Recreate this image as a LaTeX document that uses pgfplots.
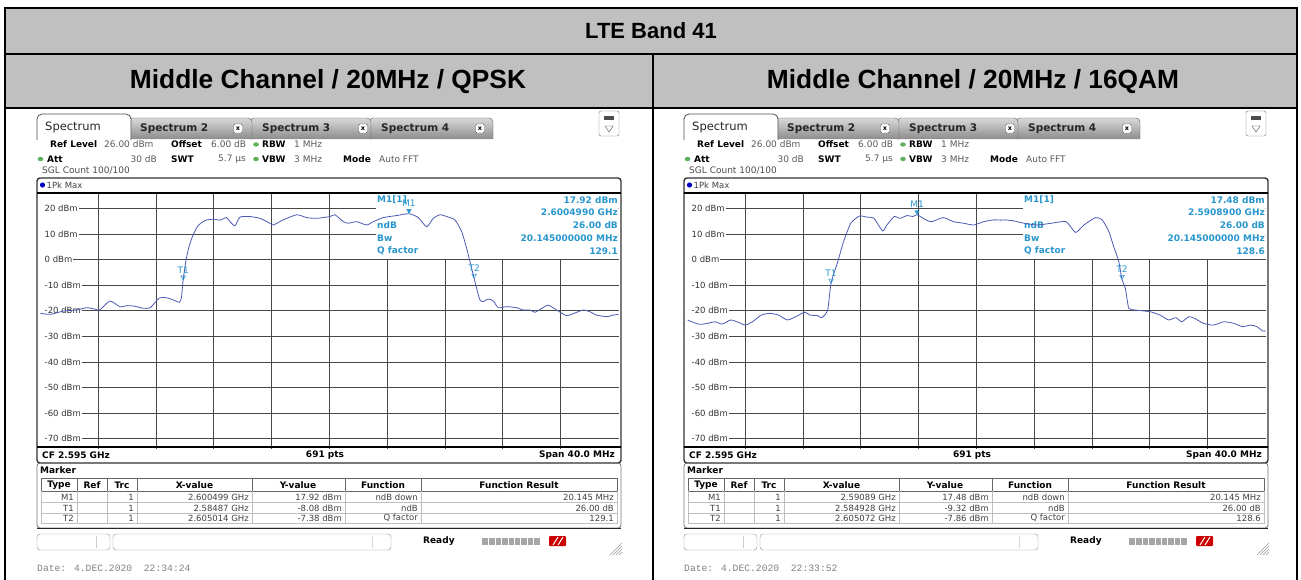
\documentclass[border=0pt]{standalone}
\usepackage{fontspec}
\setmainfont{Liberation Sans}
\newfontfamily\dv{DejaVu Sans}
\newfontfamily\lm{Liberation Mono}
\usepackage{pgfplots}
\usepackage{pgfplotstable}
\pgfplotsset{compat=1.18}
\newcommand\fs[1]{\fontsize{#1pt}{#1pt}\selectfont}
\definecolor{tgray}{RGB}{192,192,192}
\definecolor{trc}{RGB}{75,90,180}
\definecolor{mkc}{RGB}{40,150,205}
\definecolor{gdot}{RGB}{95,175,95}

\pgfplotstableread{
x y
-20.0 -21.0
-19.3 -21.4
-18.4 -20.1
-17.5 -19.7
-16.8 -18.8
-16.2 -19.4
-15.9 -19.7
-15.2 -16.2
-14.5 -18.4
-14.0 -18.0
-13.5 -18.2
-12.9 -19.0
-12.4 -18.8
-11.8 -15.1
-11.3 -14.9
-10.8 -15.8
-10.4 -16.7
-10.25 -15.0
-10.13 -8.1
-9.95 -1.0
-9.75 4.5
-9.45 9.5
-9.1 13.2
-8.6 15.3
-8.04 15.8
-7.58 15.4
-7.12 16.4
-6.89 14.8
-6.54 13.2
-6.19 16.6
-5.50 16.8
-4.81 16.1
-4.12 14.2
-3.89 13.5
-3.20 15.5
-2.27 17.5
-1.58 16.4
-0.89 16.1
0.03 16.8
0.38 17.5
0.96 14.8
1.3 14.2
1.88 14.8
2.57 13.5
3.03 14.8
3.73 16.4
4.65 17.2
5.5 17.9
6.15 16.4
6.72 12.8
7.18 16.1
7.65 17.5
8.11 16.8
8.68 15.5
9.15 10.9
9.49 4.4
9.72 -0.8
10.01 -7.4
10.18 -11.2
10.41 -15.8
10.65 -16.4
10.99 -15.4
11.34 -16.2
11.68 -18.8
12.26 -18.4
12.95 -18.8
13.41 -19.7
13.88 -19.7
14.22 -20.6
14.68 -19.1
15.14 -17.8
15.72 -19.7
16.41 -21.9
17.10 -20.6
17.57 -19.7
18.03 -20.4
18.49 -21.7
19.18 -22.3
19.64 -21.7
20.0 -21.4
}\qpsk

\pgfplotstableread{
x y
-20.0 -23.6
-19.2 -25.3
-18.6 -24.9
-18.1 -24.3
-17.6 -25.2
-17.0 -23.6
-16.4 -24.7
-16.0 -25.6
-15.5 -24.3
-14.9 -21.7
-14.3 -21.0
-13.7 -21.7
-13.1 -23.6
-12.5 -22.3
-11.9 -20.6
-11.5 -21.7
-11.0 -21.9
-10.7 -22.7
-10.3 -19.7
-10.07 -9.3
-9.6 -0.8
-9.2 7.0
-8.7 14.2
-8.1 17.0
-7.6 16.6
-7.1 16.1
-6.5 11.2
-6.2 13.5
-5.7 16.8
-5.3 16.1
-4.8 17.2
-4.4 16.8
-4.11 17.5
-3.5 15.5
-3.1 14.8
-2.3 16.4
-1.6 14.8
-0.9 14.2
-0.2 13.5
0.5 14.8
1.2 15.5
1.7 15.4
2.0 15.5
2.58 15.1
3.28 14.2
4.2 13.5
5.2 14.2
6.2 14.8
6.85 10.6
7.43 13.5
8.24 16.4
8.7 15.5
9.16 10.9
9.5 5.0
9.85 -0.8
10.07 -7.9
10.3 -11.2
10.54 -19.0
11.0 -19.7
12.04 -20.4
12.7 -21.7
13.3 -23.6
13.8 -22.7
14.2 -24.3
14.7 -22.3
15.1 -23.0
15.7 -24.9
16.4 -25.6
17.1 -24.3
17.8 -24.9
18.4 -26.2
18.96 -25.6
19.4 -26.2
19.8 -27.9
20.0 -27.9
}\qam

\pgfplotsset{
  rsaxis/.style={anchor=north west, width=578pt, height=256pt, scale only axis,
    xmin=-20, xmax=20, ymin=-74, ymax=26,
    xtick={-16,-12,-8,-4,0,4,8,12,16}, ytick={-70,-60,-50,-40,-30,-20,-10,0,10,20},
    xticklabels={}, yticklabels={}, major tick length=0pt,
    grid=major, major grid style={black!72, line width=0.9pt},
    axis line style={draw=none}, clip=true},
  trace/.style={trc, line width=0.8pt, smooth, tension=0.35, no markers},
  mkopen/.style={only marks, mark=triangle, mark size=2.6pt, mark options={yshift=3pt, rotate=180, draw=mkc, line width=0.6pt}},
  mkfull/.style={only marks, mark=triangle*, mark size=2.6pt, mark options={yshift=3pt, rotate=180, draw=mkc, fill=mkc}},
}
\tikzset{
  dbl/.style={anchor=west, fill=white, inner sep=1pt, font=\dv\fs{8.5}, text=black!80},
  mi/.style={anchor=west, inner sep=0.5pt, font=\dv\bfseries\fs{9}, text=mkc},
  mr/.style={anchor=east, inner sep=0.5pt, font=\dv\bfseries\fs{9}, text=mkc},
  ml/.style={above=7pt, inner sep=0pt, font=\dv\fs{9}, text=mkc},
  L/.style={anchor=west, inner sep=0pt, font=\dv\fs{9}},
  R/.style={anchor=east, inner sep=0pt, font=\dv\fs{9}},
  C/.style={inner sep=0pt, font=\dv\fs{9}},
}

% static screenshot chrome, pixel coordinates of the left panel
\newcommand\chrome[1]{%
  \foreach \a/\b/\t/\xx in {369/493/Spectrum 4/480, 250/371/Spectrum 3/363, 128/252/Spectrum 2/238}{
    \draw[draw=black!65, top color=black!15, bottom color=black!45, rounded corners=4pt] (\a,139) -- (\a,118) -- (\b,118) -- (\b,139);
    \node[anchor=west, font=\dv\bfseries\fs{10.5}, text=black!85, inner sep=0] at (\a+12,128.5) {\t};
    \draw[black!60, fill=white, rounded corners=1.5pt] (\xx-4.5,124) rectangle (\xx+4.5,133);
    \node[font=\dv\bfseries\fs{6.5}, inner sep=0] at (\xx,128.5) {x};
  }
  \draw[draw=black!70, fill=white, rounded corners=5pt, line width=0.8pt] (37,140) -- (37,114) -- (131,114) -- (131,140);
  \node[anchor=west, font=\dv\fs{11.5}, text=black!85, inner sep=0] at (45,127) {Spectrum};
  \draw[black!55, fill=white, rounded corners=2pt] (599,111) rectangle (619,136);
  \fill[black!70] (604,116) rectangle (614,120);
  \draw[black!70] (605,126) -- (613,126) -- (609,132) -- cycle;
  % settings
  \node[L] at (50,144.5) {\bfseries Ref Level};
  \node[L,text=black!65] at (104,144.5) {26.00 dBm};
  \node[L] at (171,144.5) {\bfseries Offset};
  \node[L,text=black!65] at (211,144.5) {6.00 dB};
  \fill[gdot] (256,144.5) ellipse (2.8 and 2.2);
  \node[L] at (262,144.5) {\bfseries RBW};
  \node[L,text=black!65] at (294,144.5) {1 MHz};
  \fill[gdot] (40.5,159) ellipse (2.8 and 2.2);
  \node[L] at (47,159) {\bfseries Att};
  \node[R,text=black!65] at (157,159) {30 dB};
  \node[L] at (171,159) {\bfseries SWT};
  \node[R,text=black!65] at (246,159) {5.7 µs};
  \fill[gdot] (256,159) ellipse (2.8 and 2.2);
  \node[L] at (262,159) {\bfseries VBW};
  \node[L,text=black!65] at (294,159) {3 MHz};
  \node[L] at (343,159) {\bfseries Mode};
  \node[L,text=black!65] at (379,159) {Auto FFT};
  \node[L,text=black!70] at (42,171) {SGL Count 100/100};
  % window
  \draw[black!80, line width=1.4pt, rounded corners=3pt] (37,178) rectangle (621,463);
  \draw[black, line width=1.3pt] (37,193) -- (621,193);
  \draw[black, line width=1.3pt] (37,447) -- (621,447);
  \fill[blue!75!black] (42.5,185) circle (2.6);
  \node[L,font=\dv\fs{8.5},text=black!75] at (46.5,185) {1Pk Max};
  \node[L,font=\dv\bfseries\fs{9}] at (42,455) {CF 2.595 GHz};
  \node[C,font=\dv\bfseries\fs{9}] at (325,455) {691 pts};
  \node[R,font=\dv\bfseries\fs{9}] at (615,455) {Span 40.0 MHz};
  % marker table frame
  \draw[black!55, line width=0.8pt, rounded corners=3pt] (37,463) rectangle (621,528);
  \draw[black!85, line width=1.6pt] (37,528.5) -- (621,528.5);
  \node[L,font=\dv\bfseries\fs{9}] at (40,470) {Marker};
  \draw[black!60, line width=0.7pt] (41,478) rectangle (617,491);
  \foreach \c in {77,107,137,252,345,421}{
    \draw[black!60, line width=0.7pt] (\c,478) -- (\c,491);
    \draw[black!25] (\c,491) -- (\c,523.5);
  }
  \draw[black!25] (41,491) -- (41,523.5) -- (617,523.5) -- (617,491);
  \draw[black!25] (41,502.5) -- (617,502.5);
  \draw[black!25] (41,513) -- (617,513);
  \node[C,font=\dv\bfseries\fs{9}] at (59,485) {Type};
  \node[C,font=\dv\bfseries\fs{9}] at (92,485) {Ref};
  \node[C,font=\dv\bfseries\fs{9}] at (122,485) {Trc};
  \node[C,font=\dv\bfseries\fs{9}] at (194.5,485) {X-value};
  \node[C,font=\dv\bfseries\fs{9}] at (298,485) {Y-value};
  \node[C,font=\dv\bfseries\fs{9}] at (383,485) {Function};
  \node[C,font=\dv\bfseries\fs{9}] at (519,485) {Function Result};
  \foreach \r/\yy/\f in {M1/497/ndB down, T1/508/ndB, T2/518.3/Q factor}{
    \node[R,font=\dv\fs{8.5},text=black!75] at (74,\yy) {\r};
    \node[R,font=\dv\fs{8.5},text=black!75] at (134,\yy) {1};
    \node[R,font=\dv\fs{8.5},text=black!75] at (418,\yy) {\f};
  }
  % status bar
  \draw[black!45, rounded corners=3pt] (37,534) rectangle (110,550);
  \draw[black!20] (96,536) -- (96,548);
  \draw[black!45, rounded corners=3pt] (113,534) rectangle (391,550);
  \draw[black!15] (372,536) -- (372,548);
  \node[L,font=\dv\bfseries\fs{9}] at (423,541) {Ready};
  \fill[black!35] (482,537.5) rectangle (540,545);
  \foreach \i in {1,...,8}{\draw[white, line width=0.6pt] (482+6.45*\i,537.5) -- (482+6.45*\i,545);}
  \fill[red!80!black, rounded corners=1pt] (549,536) rectangle (566,546);
  \draw[white, line width=1pt] (553,545) -- (558,537);
  \draw[white, line width=1pt] (558,545) -- (563,537);
  \foreach \i in {0,3,6,9}{\draw[black!40, line width=0.6pt] (610+\i,555) -- (622,543+\i);}
  \node[L,font=\lm\fs{9.7},text=black!50] at (37,568) {#1};
}
\newcommand\mtable[9]{%
  \node[R,font=\dv\fs{8.5},text=black!75] at (249,497) {#1};
  \node[R,font=\dv\fs{8.5},text=black!75] at (342,497) {#2};
  \node[R,font=\dv\fs{8.5},text=black!75] at (614,497) {#7};
  \node[R,font=\dv\fs{8.5},text=black!75] at (249,508) {#3};
  \node[R,font=\dv\fs{8.5},text=black!75] at (342,508) {#4};
  \node[R,font=\dv\fs{8.5},text=black!75] at (614,508) {#8};
  \node[R,font=\dv\fs{8.5},text=black!75] at (249,518.3) {#5};
  \node[R,font=\dv\fs{8.5},text=black!75] at (342,518.3) {#6};
  \node[R,font=\dv\fs{8.5},text=black!75] at (614,518.3) {#9};
}

\begin{document}
\begin{tikzpicture}
\useasboundingbox (0,0) rectangle (1301pt,-579pt);
\begin{scope}[x=1pt,y=-1pt]
  \fill[tgray] (5,8) rectangle (1297,108);
  \draw[black, line width=2.5pt] (5,8) -- (1297,8);
  \draw[black, line width=2.5pt] (5,54) -- (1297,54);
  \draw[black, line width=2.5pt] (5,108) -- (1297,108);
  \draw[black, line width=2.5pt] (5,6.75) -- (5,585);
  \draw[black, line width=2.5pt] (1297,6.75) -- (1297,585);
  \draw[black, line width=2.5pt] (653,54) -- (653,585);
  \node[font=\bfseries\fs{22}] at (651,31) {LTE Band 41};
  \node[font=\bfseries\fs{26.3}] at (328,82) {Middle Channel / 20MHz / QPSK};
  \node[font=\bfseries\fs{26.3}] at (973,82) {Middle Channel / 20MHz / 16QAM};
\end{scope}

% ---------- left panel ----------
\begin{axis}[rsaxis, at={(40.5pt,-193pt)}]
  \fill[white] (axis cs:3.22,0.4) rectangle (axis cs:20,26);
  \pgfplotsinvokeforeach{20,10,0,-10,-20,-30,-40,-50,-60,-70}{
    \node[dbl] at (axis cs:-20,#1) {\hspace{3pt}#1 dBm};
  }
  \node[mi] at (axis cs:3.25,23.3) {M1[1]};
  \node[mi] at (axis cs:3.25,13.5) {ndB};
  \node[mi] at (axis cs:3.25,8.5) {Bw};
  \node[mi] at (axis cs:3.25,3.45) {Q factor};
  \node[mr] at (axis cs:20,23.3) {17.92 dBm};
  \node[mr] at (axis cs:20,18.6) {2.6004990 GHz};
  \node[mr] at (axis cs:20,13.5) {26.00 dB};
  \node[mr] at (axis cs:20,8.5) {20.145000000 MHz};
  \node[mr] at (axis cs:20,3.45) {129.1};
  \addplot[trace] table {\qpsk};
  \addplot[mkfull] coordinates {(5.5,17.92)} node[ml] {M1};
  \addplot[mkopen] coordinates {(-10.13,-8.08)} node[ml] {T1};
  \addplot[mkopen] coordinates {(10.01,-7.38)} node[ml] {T2};
\end{axis}

% ---------- right panel ----------
\begin{axis}[rsaxis, at={(687.5pt,-193pt)}]
  \fill[white] (axis cs:3.22,0.4) rectangle (axis cs:20,26);
  \pgfplotsinvokeforeach{20,10,0,-10,-20,-30,-40,-50,-60,-70}{
    \node[dbl] at (axis cs:-20,#1) {\hspace{3pt}#1 dBm};
  }
  \node[mi] at (axis cs:3.25,23.3) {M1[1]};
  \node[mi] at (axis cs:3.25,13.5) {ndB};
  \node[mi] at (axis cs:3.25,8.5) {Bw};
  \node[mi] at (axis cs:3.25,3.45) {Q factor};
  \node[mr] at (axis cs:20,23.3) {17.48 dBm};
  \node[mr] at (axis cs:20,18.6) {2.5908900 GHz};
  \node[mr] at (axis cs:20,13.5) {26.00 dB};
  \node[mr] at (axis cs:20,8.5) {20.145000000 MHz};
  \node[mr] at (axis cs:20,3.45) {128.6};
  \addplot[trace] table {\qam};
  \addplot[mkfull] coordinates {(-4.11,17.48)} node[ml] {M1};
  \addplot[mkopen] coordinates {(-10.07,-9.32)} node[ml] {T1};
  \addplot[mkopen] coordinates {(10.07,-7.86)} node[ml] {T2};
\end{axis}

\begin{scope}[x=1pt,y=-1pt]
  \chrome{Date: 4.DEC.2020\ \ 22:34:24}
  \mtable{2.600499 GHz}{17.92 dBm}{2.58487 GHz}{-8.08 dBm}{2.605014 GHz}{-7.38 dBm}{20.145 MHz}{26.00 dB}{129.1}
\end{scope}
\begin{scope}[x=1pt,y=-1pt,xshift=647pt]
  \chrome{Date: 4.DEC.2020\ \ 22:33:52}
  \mtable{2.59089 GHz}{17.48 dBm}{2.584928 GHz}{-9.32 dBm}{2.605072 GHz}{-7.86 dBm}{20.145 MHz}{26.00 dB}{128.6}
\end{scope}
\end{tikzpicture}
\end{document}
